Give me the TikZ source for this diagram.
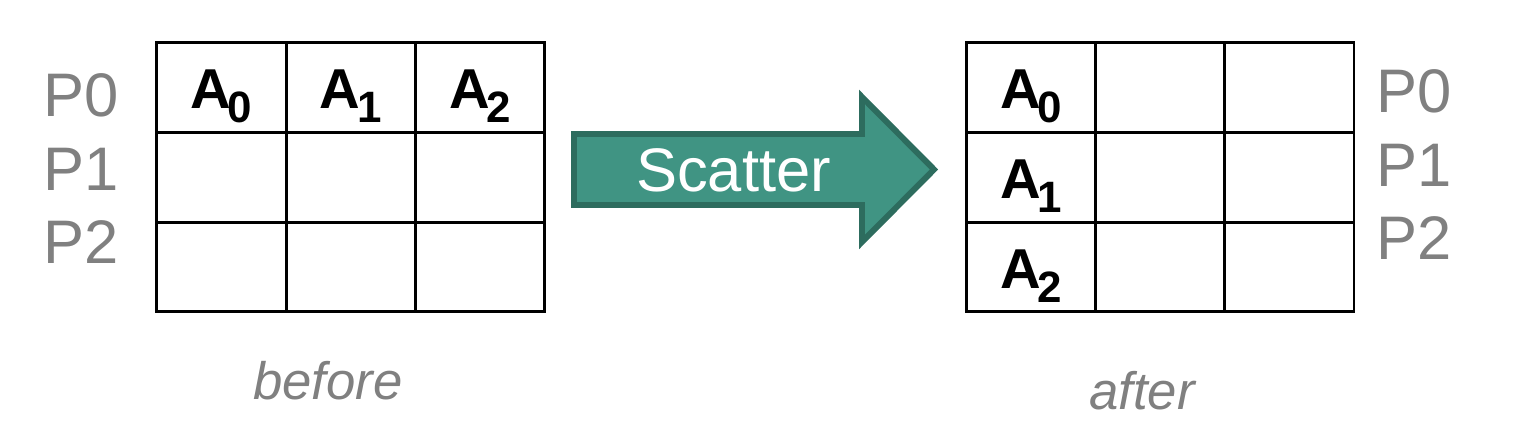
\documentclass[tikz,border=0pt]{standalone}
\usepackage{fontspec}
\setmainfont{Liberation Sans}

\definecolor{labelgray}{HTML}{808080}
\definecolor{arrowfill}{HTML}{409483}
\definecolor{arrowline}{HTML}{2D6C5E}

\newcommand{\asub}[1]{\textbf{A\kern-2pt\raisebox{-8pt}{\fontsize{25}{25}\selectfont #1}}}

\tikzset{
    cell/.style={draw, line width=1.7pt, minimum width=2.584cm, minimum height=1.796cm, inner sep=0pt},
    proc/.style={text=labelgray, font=\fontsize{35}{35}\selectfont, anchor=base west, inner sep=0pt},
    entry/.style={font=\fontsize{32}{32}\selectfont, anchor=base, inner sep=0pt},
    caption/.style={text=labelgray, font=\fontsize{30}{30}\selectfont\itshape, anchor=base, inner sep=0pt}
}

\begin{document}
\begin{tikzpicture}[x=0.02cm, y=-0.02cm]
    \useasboundingbox (0,0) rectangle (1532,448);

    % the two 3x3 grids
    \foreach \i in {0,1,2}
        \foreach \j in {0,1,2} {
            \node[cell] (b\j\i) at (221.5+129.2*\i, 87.5+89.8*\j) {};
            \node[cell] (f\j\i) at (1031+129.2*\i, 87.5+89.8*\j) {};
        }

    % before: row of P0
    \node[entry] (a0) at (b00.center) [yshift=-0.42cm] {\asub0};
    \node[entry] (a1) at (b01.center) [yshift=-0.42cm] {\asub1};
    \node[entry] (a2) at (b02.center) [yshift=-0.42cm] {\asub2};

    % after: first column
    \node[entry] (c0) at (f00.center) [yshift=-0.42cm] {\asub0};
    \node[entry] (c1) at (f10.center) [yshift=-0.42cm] {\asub1};
    \node[entry] (c2) at (f20.center) [yshift=-0.42cm] {\asub2};

    \node[proc] (pl0) at (43,117) {P0};
    \node[proc] (pl1) at (43,191) {P1};
    \node[proc] (pl2) at (43,264) {P2};
    \node[proc] (pr0) at (1376,113) {P0};
    \node[proc] (pr1) at (1376,187) {P1};
    \node[proc] (pr2) at (1376,260) {P2};

    % big arrow
    \draw[line width=3.4pt, draw=arrowline, fill=arrowfill, line join=miter]
        (574,134) -- (862,134) -- (862,97) -- (934,169.5) -- (862,242)
        -- (862,205) -- (574,205) -- cycle;
    \node[font=\fontsize{35}{35}\selectfont, text=white, anchor=base, inner sep=0pt] (scatter) at (733.5,192) {Scatter};

    \node[caption] (before) at (328,400) {before};
    \node[caption] (after) at (1142,410) {after};
\end{tikzpicture}
\end{document}
